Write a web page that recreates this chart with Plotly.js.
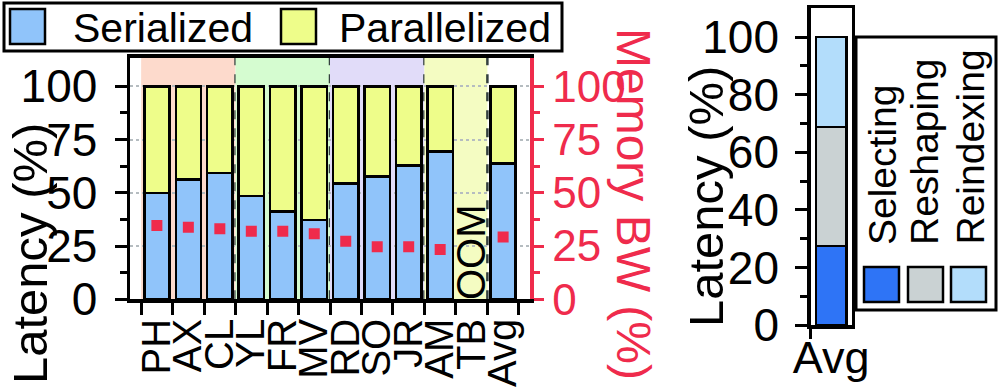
<!DOCTYPE html>
<html>
<head>
<meta charset="utf-8">
<script src="https://cdn.plot.ly/plotly-3.0.1.min.js"></script>
<style>
  html, body { margin: 0; padding: 0; background: #fff; }
  #plot { width: 998px; height: 389px; }
</style>
</head>
<body>
<div id="plot"></div>
<script>
// data
const categories = ['PH', 'AX', 'CL', 'YL', 'FR', 'MV', 'RD', 'SO', 'JR', 'AM', 'TB', 'Avg'];
const serialized = [50, 56.3, 59.4, 48.6, 41.2, 37.2, 54.4, 57.7, 62.8, 69.4, null, 63.8];
const parallelized = [50, 43.7, 40.6, 51.4, 58.8, 62.8, 45.6, 42.3, 37.2, 30.6, null, 36.2];
const memoryBW = [34.7, 33.8, 33.1, 32.0, 32.0, 30.8, 27.3, 24.7, 24.7, 23.4, null, 29.3];

const groupStart = ['PH', 'YL', 'RD', 'AM'];
const groupEnd = ['CL', 'MV', 'JR', 'TB'];
const groupColors = ['#FDDACC', '#D5FCD0', '#E1DCF9', '#F4FCC2'];

const breakdownCats = ['Avg'];
const selecting = [27.5];
const reshaping = [41.3];
const reindexing = [31.2];

const mainColors = ['#90C4FA', '#EEFD8A'];
const breakdownColors = ['#2E74F6', '#CAD2D3', '#B3DDFB'];
const red = '#EF2B4C';
const FONT = 'Liberation Sans, Arial, sans-serif';

const W = 998, H = 389;
const px = v => v / W;
const py = v => 1 - v / H;

const traces = [
  { type: 'bar', x: categories, y: serialized, name: 'Serialized', width: 0.8,
    marker: { color: mainColors[0], line: { color: '#000', width: 2.5 } }, xaxis: 'x', yaxis: 'y' },
  { type: 'bar', x: categories, y: parallelized, name: 'Parallelized', width: 0.8,
    marker: { color: mainColors[1], line: { color: '#000', width: 2.5 } }, xaxis: 'x', yaxis: 'y' },
  { type: 'scatter', mode: 'markers', x: categories, y: memoryBW, name: 'Memory BW',
    marker: { symbol: 'square', size: 11, color: red }, xaxis: 'x', yaxis: 'y2' },
  { type: 'bar', x: breakdownCats, y: selecting, name: 'Selecting', width: 0.75,
    marker: { color: breakdownColors[0], line: { color: '#000', width: 2.5 } }, xaxis: 'x3', yaxis: 'y3' },
  { type: 'bar', x: breakdownCats, y: reshaping, name: 'Reshaping', width: 0.75,
    marker: { color: breakdownColors[1], line: { color: '#000', width: 2.5 } }, xaxis: 'x3', yaxis: 'y3' },
  { type: 'bar', x: breakdownCats, y: reindexing, name: 'Reindexing', width: 0.75,
    marker: { color: breakdownColors[2], line: { color: '#000', width: 2.5 } }, xaxis: 'x3', yaxis: 'y3' }
];

const shapes = [];
const annotations = [];

function note(x, y, text, size, opts) {
  annotations.push(Object.assign({ xref: 'paper', yref: 'paper', x: px(x), y: py(y), text: text,
    showarrow: false, xanchor: 'center', yanchor: 'middle',
    font: { family: FONT, size: size, color: '#000' } }, opts || {}));
}

// group background bands and dashed separators
groupStart.forEach((g, i) => {
  const a = categories.indexOf(g) - 0.5;
  const b = categories.indexOf(groupEnd[i]) + 0.5;
  shapes.push({ type: 'rect', xref: 'x', yref: 'y domain', x0: a, x1: b, y0: 0, y1: 1,
    fillcolor: groupColors[i], line: { width: 0 }, layer: 'below' });
  shapes.push({ type: 'line', xref: 'x', yref: 'y domain', x0: b, x1: b, y0: 0, y1: 1,
    line: { color: '#34403F', width: 2.5, dash: 'dash' }, layer: 'below' });
});

annotations.push({ xref: 'x', yref: 'y', x: 'TB', y: 22, text: 'OOM', showarrow: false,
  textangle: -90, xanchor: 'center', yanchor: 'middle',
  font: { family: FONT, size: 40, color: '#000' } });

// titles
note(30, 254, 'Latency (%)', 49, { textangle: -90 });
note(634, 204, 'Memory BW (%)', 48, { textangle: 90, font: { family: FONT, size: 48, color: red } });
note(706, 197, 'Latency (%)', 49, { textangle: -90 });

// top legend
shapes.push({ type: 'rect', xref: 'paper', yref: 'paper', x0: px(4), x1: px(562), y0: py(51), y1: py(3),
  line: { color: '#000', width: 3 }, fillcolor: 'rgba(0,0,0,0)' });
[['Serialized', 10, 71], ['Parallelized', 281, 337]].forEach((it, i) => {
  shapes.push({ type: 'rect', xref: 'paper', yref: 'paper', x0: px(it[1]), x1: px(it[1] + 35),
    y0: py(44), y1: py(9), fillcolor: mainColors[i], line: { color: '#000', width: 2.5 } });
  note(it[2], 28, it[0], 41, { xanchor: 'left' });
});

// right legend
shapes.push({ type: 'rect', xref: 'paper', yref: 'paper', x0: px(856), x1: px(996), y0: py(310), y1: py(37),
  line: { color: '#000', width: 3 }, fillcolor: '#fff' });
[['Selecting', 864, 883], ['Reshaping', 908, 925], ['Reindexing', 951, 970]].forEach((it, i) => {
  shapes.push({ type: 'rect', xref: 'paper', yref: 'paper', x0: px(it[1]), x1: px(it[1] + 35),
    y0: py(302), y1: py(267), fillcolor: breakdownColors[i], line: { color: '#000', width: 2.5 } });
  note(it[2], 247, it[0], 39, { textangle: -90, yanchor: 'bottom' });
});

const axisCommon = {
  showline: true, linecolor: '#000', linewidth: 3.5, ticks: 'outside', tickwidth: 3,
  tickcolor: '#000', zeroline: false, fixedrange: true
};

const layout = {
  width: W, height: H,
  margin: { l: 0, r: 0, t: 0, b: 0 },
  paper_bgcolor: '#fff', plot_bgcolor: '#fff',
  showlegend: false, barmode: 'stack',
  font: { family: FONT, color: '#000' },
  xaxis: Object.assign({}, axisCommon, {
    domain: [px(130), px(530)], type: 'category', tickson: 'boundaries', dtick: 1,
    tickangle: -90, ticklen: 12, mirror: true, showgrid: false,
    tickfont: { family: FONT, size: 40, color: '#000' }
  }),
  yaxis: Object.assign({}, axisCommon, {
    domain: [py(299.3), py(57.5)], range: [0, 113.5], tickmode: 'array', tickvals: [0, 25, 50, 75, 100],
    ticklen: 12, ticklabelstandoff: 8, showgrid: true, gridcolor: '#B5BCC0', gridwidth: 2, griddash: 'dot',
    minor: { tickmode: 'array', tickvals: [12.5, 37.5, 62.5, 87.5], ticks: 'outside', ticklen: 7,
      tickwidth: 3, tickcolor: '#000', showgrid: false },
    tickfont: { family: FONT, size: 46, color: '#000' }
  }),
  yaxis2: Object.assign({}, axisCommon, {
    overlaying: 'y', side: 'right', anchor: 'x', range: [0, 113.5], tickmode: 'array',
    tickvals: [0, 25, 50, 75, 100], ticklen: 10, linecolor: red, tickcolor: red, showgrid: false,
    minor: { tickmode: 'array', tickvals: [12.5, 37.5, 62.5, 87.5], ticks: 'outside', ticklen: 6,
      tickwidth: 3, tickcolor: red, showgrid: false },
    tickfont: { family: FONT, size: 44, color: red }
  }),
  xaxis3: Object.assign({}, axisCommon, {
    domain: [px(810.7), px(851.7)], anchor: 'y3', type: 'category', tickson: 'boundaries',
    tickangle: 0, ticklen: 10, ticklabelstandoff: -10, mirror: true, showgrid: false,
    tickfont: { family: FONT, size: 45, color: '#000' }
  }),
  yaxis3: Object.assign({}, axisCommon, {
    domain: [py(325), py(8.3)], anchor: 'x3', range: [0, 110], tickmode: 'array',
    tickvals: [0, 20, 40, 60, 80, 100], ticklen: 12, ticklabelstandoff: 7, mirror: true, showgrid: false,
    minor: { tickmode: 'array', tickvals: [10, 30, 50, 70, 90], ticks: 'outside', ticklen: 7,
      tickwidth: 3, tickcolor: '#000', showgrid: false },
    tickfont: { family: FONT, size: 46, color: '#000' }
  }),
  shapes: shapes,
  annotations: annotations
};

Plotly.newPlot('plot', traces, layout, { staticPlot: true, displayModeBar: false });
</script>
</body>
</html>
